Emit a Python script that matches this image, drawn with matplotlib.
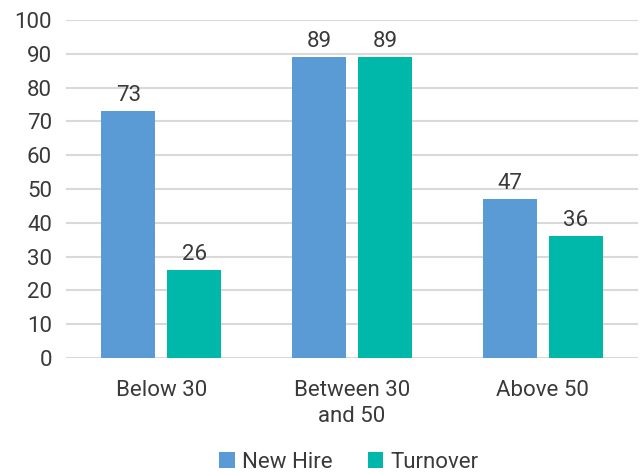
import matplotlib.pyplot as plt
import numpy as np

plt.rcParams['font.family'] = ['Roboto', 'DejaVu Sans']

groups = ['Below 30', 'Between 30\nand 50', 'Above 50']
new_hire = [73, 89, 47]
turnover = [26, 89, 36]
series = ['New Hire', 'Turnover']
colors = ['#5B9BD5', '#00B8AA']
text_color = '#3a3a3a'

fig = plt.figure(figsize=(6.4, 4.72), dpi=100)
ax = fig.add_axes([0.103, 0.2415, 0.894, 0.7161])

x = np.arange(len(groups))
w = 0.283
off = 0.173
b1 = ax.bar(x - off, new_hire, w, color=colors[0], label=series[0], zorder=3)
b2 = ax.bar(x + off, turnover, w, color=colors[1], label=series[1], zorder=3)

for bars, vals in [(b1, new_hire), (b2, turnover)]:
    for r, v in zip(bars, vals):
        ax.text(r.get_x() + r.get_width() / 2, v + 1.5, str(v), ha='center', va='bottom',
                fontsize=16, color=text_color)

ax.set_ylim(0, 100)
ax.set_xlim(-0.5, 2.5)
ax.set_yticks(range(0, 101, 10))
ax.set_xticks(x)
ax.set_xticklabels(groups, linespacing=1.3)
ax.grid(axis='y', color='#d9d9d9', linewidth=1.5, zorder=0)
for s in ax.spines.values():
    s.set_visible(False)
ax.tick_params(length=0, labelsize=16, colors=text_color)
ax.tick_params(axis='x', pad=16)
ax.tick_params(axis='y', pad=10)

fig.legend(loc='upper center', bbox_to_anchor=(0.545, 0.085), ncol=2, frameon=False,
           fontsize=16, handlelength=0.7, handleheight=0.7, handletextpad=0.3,
           columnspacing=1.6, labelcolor=text_color)

fig.savefig('out.png', dpi=100)
